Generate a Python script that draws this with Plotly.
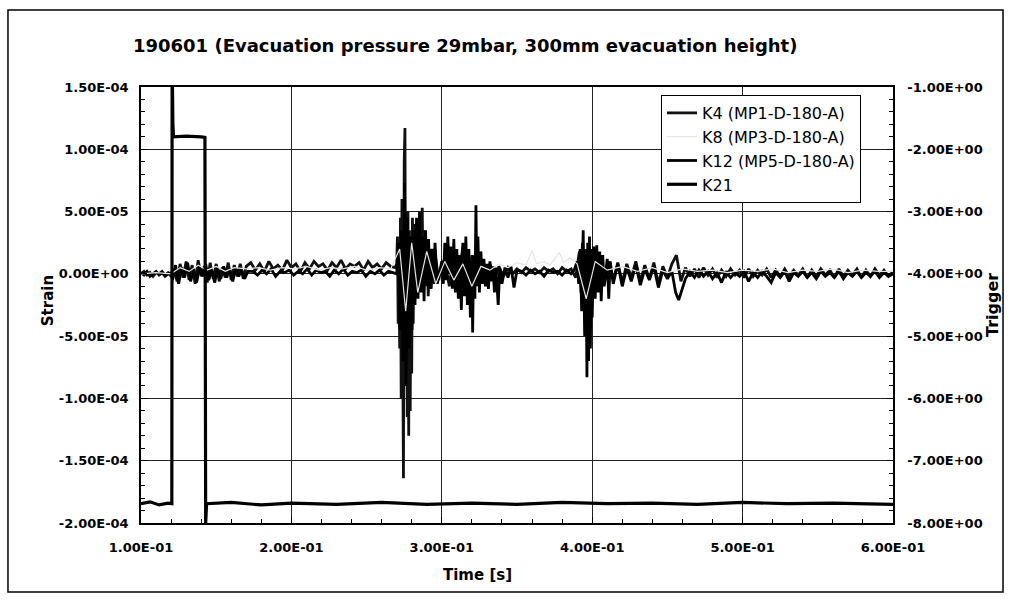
import plotly.graph_objects as go

TITLE = "190601 (Evacuation pressure 29mbar, 300mm evacuation height)"

x_tickvals = [0.1, 0.2, 0.3, 0.4, 0.5, 0.6]
x_ticktext = ["1.00E-01", "2.00E-01", "3.00E-01", "4.00E-01", "5.00E-01", "6.00E-01"]
y_tickvals = [1.5e-4, 1.0e-4, 5.0e-5, 0.0, -5.0e-5, -1.0e-4, -1.5e-4, -2.0e-4]
y_ticktext = ["1.50E-04", "1.00E-04", "5.00E-05", "0.00E+00", "-5.00E-05",
              "-1.00E-04", "-1.50E-04", "-2.00E-04"]
y2_tickvals = [-1, -2, -3, -4, -5, -6, -7, -8]
y2_ticktext = ["-1.00E+00", "-2.00E+00", "-3.00E+00", "-4.00E+00", "-5.00E+00",
               "-6.00E+00", "-7.00E+00", "-8.00E+00"]

# strain values, in micro-strain (1e-6), as (time [s], value)
K4 = [
    (0.100, 0), (0.102, 2), (0.104, -1), (0.106, 1), (0.108, -2), (0.110, 1), (0.112, 0),
    (0.114, 2), (0.116, -1), (0.118, 1), (0.120, -2),
    (0.122, 4), (0.124, -6), (0.126, 8), (0.128, -3), (0.130, 10), (0.132, -5), (0.134, 7),
    (0.136, -8), (0.138, 11), (0.140, -2), (0.142, 6), (0.144, -7), (0.146, 9), (0.148, -4),
    (0.150, 8), (0.152, -6), (0.154, 5), (0.156, -3), (0.158, 9), (0.160, -5), (0.162, 7),
    (0.164, -2), (0.166, 8), (0.168, -4), (0.170, 6),
    (0.173, 9), (0.176, 3), (0.179, 8), (0.182, 2), (0.185, 10), (0.188, 4), (0.191, 7),
    (0.194, 3), (0.197, 11), (0.200, 5), (0.203, 8), (0.206, 2), (0.209, 9), (0.212, 4),
    (0.215, 10), (0.218, 6), (0.221, 8), (0.224, 3), (0.227, 9), (0.230, 5), (0.233, 11),
    (0.236, 4), (0.239, 8), (0.242, 6), (0.245, 9), (0.248, 3), (0.251, 10), (0.254, 5),
    (0.257, 8), (0.260, 4), (0.263, 9), (0.266, 6),
    (0.2690, 5), (0.2700, 8), (0.2705, 30), (0.2710, -40), (0.2715, 20), (0.2720, -60),
    (0.2725, 45), (0.2730, -100), (0.2735, 60), (0.2740, -120), (0.2745, -164), (0.2750, 90),
    (0.2755, 117), (0.2760, -70), (0.2765, 40), (0.2770, -115), (0.2775, 50), (0.2780, -130),
    (0.2785, 35), (0.2790, -110), (0.2795, 20), (0.2800, -80), (0.2805, 45), (0.2810, -40),
    (0.2815, 40), (0.2820, -20), (0.2830, 38), (0.2840, -15), (0.2850, 30), (0.2860, -10),
    (0.2870, 53), (0.2875, -5), (0.2880, 35), (0.2890, -8), (0.2900, 25), (0.2910, -18),
    (0.2920, 20), (0.2930, -12), (0.2940, 15), (0.2950, -8), (0.2960, 12), (0.2980, -5),
    (0.3000, 8),
    (0.302, 12), (0.305, -10), (0.308, 18), (0.311, -6), (0.314, 22), (0.317, -12),
    (0.320, 15), (0.323, -8), (0.326, 10), (0.329, -5), (0.332, 8), (0.335, -4), (0.338, 6),
    (0.341, -2), (0.344, 5), (0.347, 0), (0.350, 4), (0.353, 1), (0.356, 5), (0.359, 2),
    (0.362, 4), (0.365, 1), (0.368, 5), (0.371, 2), (0.374, 4), (0.377, 0), (0.380, 5),
    (0.383, 2), (0.386, 4), (0.389, -3),
    (0.3915, 18), (0.3925, -15), (0.3935, 25), (0.3945, -25), (0.3955, 20), (0.3965, -40),
    (0.3975, 15), (0.3985, -20), (0.3995, 18), (0.4005, -10), (0.4015, 12), (0.4025, -6),
    (0.405, 14), (0.408, -8), (0.411, 10), (0.414, -5), (0.417, 9), (0.420, -7), (0.423, 8),
    (0.426, -3), (0.429, 10), (0.432, -6), (0.435, 7), (0.438, -4), (0.441, 9), (0.444, -8),
    (0.447, 6), (0.450, -3), (0.453, 8), (0.456, 15), (0.459, -6), (0.462, 5), (0.465, -2),
    (0.468, 4), (0.471, -3), (0.474, 5), (0.477, -1), (0.480, 4), (0.483, -3), (0.486, 3),
    (0.489, -2), (0.492, 4), (0.495, -1), (0.498, 3), (0.501, -3), (0.504, 4), (0.507, -2),
    (0.510, 3), (0.513, -1), (0.516, 4), (0.519, -3), (0.522, 3), (0.525, -2), (0.528, 4),
    (0.531, -2), (0.534, 3), (0.537, -1), (0.540, 4), (0.543, -3), (0.546, 3), (0.549, -2),
    (0.552, 4), (0.555, -1), (0.558, 3), (0.561, -3), (0.564, 4), (0.567, -2), (0.570, 3),
    (0.573, -1), (0.576, 4), (0.579, -3), (0.582, 3), (0.585, -2), (0.588, 4), (0.591, -1),
    (0.594, 3), (0.597, -2), (0.600, 2),
]

K8 = [
    (0.100, 0), (0.110, 1), (0.120, 0), (0.126, 5), (0.132, 2), (0.138, 7), (0.144, 3),
    (0.150, 6), (0.156, 2), (0.162, 5), (0.170, 4), (0.178, 5), (0.186, 3), (0.194, 5),
    (0.202, 4), (0.210, 6), (0.218, 3), (0.226, 5), (0.234, 4), (0.242, 6), (0.250, 3),
    (0.258, 5), (0.266, 4), (0.272, 20), (0.276, -30), (0.280, 25), (0.284, -15),
    (0.290, 18), (0.296, -8), (0.302, 10), (0.308, -5), (0.314, 8), (0.320, -10),
    (0.326, 6), (0.332, 3), (0.338, 8), (0.344, 5), (0.350, 9), (0.356, 7), (0.360, 19),
    (0.363, 8), (0.368, 10), (0.372, 7), (0.375, 12), (0.378, 17), (0.381, 9), (0.385, 13),
    (0.390, 8), (0.396, -20), (0.402, 10), (0.410, 3), (0.420, 6), (0.430, 2), (0.440, 5),
    (0.450, 1), (0.460, 4), (0.470, 2), (0.480, 3), (0.490, 1), (0.500, 3), (0.510, 2),
    (0.520, 4), (0.530, 1), (0.540, 3), (0.550, 2), (0.560, 4), (0.570, 1), (0.580, 3),
    (0.590, 2), (0.600, 2),
]

K12 = [
    (0.100, 1), (0.102, -1), (0.104, 2), (0.106, -2), (0.108, 0), (0.110, 2), (0.112, -1),
    (0.114, 1), (0.116, -2), (0.118, 0), (0.120, 1),
    (0.121, -5), (0.123, 7), (0.125, -8), (0.127, 5), (0.129, -3), (0.131, 9), (0.133, -6),
    (0.135, 4), (0.137, -7), (0.139, 6), (0.141, -2), (0.143, 8), (0.145, -5), (0.147, 3),
    (0.149, -7), (0.151, 5), (0.153, -4), (0.155, 6), (0.157, -3), (0.159, 4), (0.161, -6),
    (0.163, 5), (0.165, -2), (0.167, 3), (0.169, -4), (0.171, 2),
    (0.1745, 2), (0.1775, -1), (0.1805, 3), (0.1835, 0), (0.1865, 4), (0.1895, -2),
    (0.1925, 2), (0.1955, 1), (0.1985, 3), (0.2015, -1), (0.2045, 2), (0.2075, 0),
    (0.2105, 4), (0.2135, -1), (0.2165, 3), (0.2195, 1), (0.2225, 2), (0.2255, -2),
    (0.2285, 3), (0.2315, 0), (0.2345, 4), (0.2375, -1), (0.2405, 2), (0.2435, 1),
    (0.2465, 3), (0.2495, -2), (0.2525, 2), (0.2555, 0), (0.2585, 3), (0.2615, -1),
    (0.2645, 2), (0.2675, 1),
    (0.2700, 0), (0.2712, 25), (0.2722, -45), (0.2732, 35), (0.2742, -70), (0.2752, 73),
    (0.2762, -90), (0.2772, 45), (0.2782, -60), (0.2792, 30), (0.2802, -45), (0.2812, 35),
    (0.2822, -25), (0.2832, 45), (0.2842, -20), (0.2852, 50), (0.2862, -15), (0.2872, 30),
    (0.2882, -22), (0.2892, 35), (0.2902, -10), (0.2912, 28), (0.2922, -12), (0.2935, 20),
    (0.2945, -5), (0.2955, 25), (0.2970, -8),
    (0.3000, 10), (0.3010, -8), (0.3020, 25), (0.3030, -5), (0.3040, 30), (0.3050, 0),
    (0.3060, 22), (0.3070, -12), (0.3080, 28), (0.3090, -15), (0.3100, 20), (0.3110, -20),
    (0.3120, 15), (0.3130, -29), (0.3140, 25), (0.3150, -18), (0.3160, 30), (0.3170, -25),
    (0.3180, 20), (0.3190, -35), (0.3200, 10), (0.3205, -47), (0.3212, 15), (0.3220, -20),
    (0.3227, 55), (0.3234, -10), (0.3240, 30), (0.3250, -15), (0.3260, 18), (0.3270, -8),
    (0.3280, 12), (0.3290, -10), (0.3300, 8), (0.3310, -12), (0.3320, 10), (0.3330, -6),
    (0.3340, 6), (0.3350, -15), (0.3360, 5), (0.3375, -25), (0.3385, 4), (0.3400, -8),
    (0.3420, 5), (0.3440, -3), (0.3460, 6), (0.3480, -11), (0.3500, 3),
    (0.353, 2), (0.356, -1), (0.359, 3), (0.362, 0), (0.365, 2), (0.368, -2), (0.371, 3),
    (0.374, 1), (0.377, 2), (0.380, -1), (0.383, 3), (0.386, 0),
    (0.3880, 3), (0.3900, 10), (0.3910, -8), (0.3920, 20), (0.3930, -30), (0.3940, 35),
    (0.3950, -50), (0.3958, 15), (0.3965, -83), (0.3970, 25), (0.3976, -70), (0.3982, 30),
    (0.3988, -60), (0.3994, 20), (0.4000, -35), (0.4010, 22), (0.4020, -20), (0.4030, 23),
    (0.4040, -15), (0.4050, 18), (0.4060, -22), (0.4070, 15), (0.4080, -10), (0.4100, 12),
    (0.4110, -20), (0.4120, 10), (0.4140, -8),
    (0.417, 8), (0.420, -10), (0.423, 5), (0.426, -6), (0.429, 7), (0.432, -9), (0.435, 4),
    (0.438, -5), (0.441, 6), (0.444, -11), (0.447, 3), (0.450, -4), (0.453, 2), (0.4555, -15),
    (0.4575, -21), (0.4595, -14), (0.462, -4), (0.465, 2), (0.468, -3), (0.471, 3),
    (0.474, -2), (0.477, 2), (0.480, -4), (0.483, 1), (0.486, -7), (0.489, 2), (0.492, -3),
    (0.495, 1), (0.498, -2), (0.501, 2), (0.504, -6), (0.507, 1), (0.510, -3), (0.513, 2),
    (0.516, -2), (0.519, -7), (0.522, 1), (0.525, -3), (0.528, 2), (0.531, -6), (0.534, 1),
    (0.537, -2), (0.540, 2), (0.543, -3), (0.546, 1), (0.549, -4), (0.552, 2), (0.555, -2),
    (0.558, 1), (0.561, -3), (0.564, 2), (0.567, -4), (0.570, 1), (0.573, -2), (0.576, 2),
    (0.579, -3), (0.582, 1), (0.585, -2), (0.588, 2), (0.591, -3), (0.594, 1), (0.597, -2),
    (0.600, 0),
]

# trigger channel (right axis), as (time [s], value)
K21 = [
    (0.100, -7.69), (0.106, -7.66), (0.112, -7.71), (0.118, -7.68), (0.1205, -7.69),
    (0.1207, -0.5), (0.1212, -1.6), (0.1216, -1.80), (0.130, -1.79), (0.140, -1.80),
    (0.1425, -1.81), (0.1430, -8.0), (0.1436, -7.69), (0.160, -7.67), (0.180, -7.71),
    (0.200, -7.68), (0.230, -7.70), (0.260, -7.67), (0.290, -7.70), (0.320, -7.68),
    (0.350, -7.70), (0.380, -7.67), (0.410, -7.69), (0.440, -7.68), (0.470, -7.70),
    (0.500, -7.67), (0.530, -7.69), (0.560, -7.68), (0.600, -7.70),
]

MICRO = 1e-6
BLACK = "black"
FONT = "DejaVu Sans, Liberation Sans, sans-serif"


def split(pairs, scale=1.0):
    return [p[0] for p in pairs], [p[1] * scale for p in pairs]


fig = go.Figure()
t, v = split(K4, MICRO)
fig.add_trace(go.Scatter(x=t, y=v, mode="lines", name="K4 (MP1-D-180-A)",
                         line=dict(color="#111111", width=2.8), legendrank=1))
t, v = split(K12, MICRO)
fig.add_trace(go.Scatter(x=t, y=v, mode="lines", name="K12 (MP5-D-180-A)",
                         line=dict(color="#000000", width=2.8), legendrank=3))
t, v = split(K8, MICRO)
fig.add_trace(go.Scatter(x=t, y=v, mode="lines", name="K8 (MP3-D-180-A)",
                         line=dict(color="#e4e4e4", width=1.2), legendrank=2))
t, v = split(K21)
fig.add_trace(go.Scatter(x=t, y=v, mode="lines", name="K21", yaxis="y2",
                         line=dict(color="#000000", width=3.2), legendrank=4))

tickfont = dict(family=FONT, size=13, color=BLACK, weight="bold")

fig.update_layout(
    width=1011, height=601,
    margin=dict(l=141, r=118, t=87, b=78),
    paper_bgcolor="white", plot_bgcolor="white",
    font=dict(family=FONT, color=BLACK),
    showlegend=True,
    legend=dict(x=0.6915, y=0.9817, xanchor="left", yanchor="top",
                bgcolor="white", bordercolor=BLACK, borderwidth=1,
                font=dict(family=FONT, size=16, color=BLACK),
                itemwidth=30, tracegroupgap=0),
    xaxis=dict(range=[0.1, 0.6], tickmode="array", tickvals=x_tickvals, ticktext=x_ticktext,
               showgrid=True, gridcolor="#222222", gridwidth=1, zeroline=False,
               showline=True, linecolor=BLACK, linewidth=1.5, mirror=True,
               ticks="inside", ticklen=6, tickcolor=BLACK, tickfont=tickfont,
               ticklabelstandoff=12,
               minor=dict(tickmode="linear", tick0=0.1, dtick=0.02, ticks="inside",
                          ticklen=4, tickcolor=BLACK, showgrid=False)),
    yaxis=dict(range=[-2.0e-4, 1.5e-4], tickmode="array", tickvals=y_tickvals,
               ticktext=y_ticktext, showgrid=True, gridcolor="#222222", gridwidth=1,
               zeroline=False, showline=True, linecolor=BLACK, linewidth=1.5,
               ticks="inside", ticklen=6, tickcolor=BLACK, tickfont=tickfont,
               ticklabelstandoff=8,
               minor=dict(tickmode="linear", tick0=0.0, dtick=1e-5, ticks="inside",
                          ticklen=4, tickcolor=BLACK, showgrid=False)),
    yaxis2=dict(range=[-8, -1], overlaying="y", side="right", tickmode="array",
                tickvals=y2_tickvals, ticktext=y2_ticktext, showgrid=False, zeroline=False,
                showline=True, linecolor=BLACK, linewidth=1.5,
                ticks="inside", ticklen=6, tickcolor=BLACK, tickfont=tickfont,
                ticklabelstandoff=10,
                minor=dict(tickmode="linear", tick0=-8, dtick=0.2, ticks="inside",
                           ticklen=4, tickcolor=BLACK)),
    annotations=[
        dict(text=TITLE, xref="paper", yref="paper", x=0.4309, y=1.0963,
             xanchor="center", yanchor="middle", showarrow=False,
             font=dict(family=FONT, size=18, color=BLACK, weight="bold")),
        dict(text="Strain", xref="paper", yref="paper", x=-0.1237, y=0.511,
             xanchor="center", yanchor="middle", showarrow=False, textangle=-90,
             font=dict(family=FONT, size=15, color=BLACK, weight="bold")),
        dict(text="Trigger", xref="paper", yref="paper", x=1.1316, y=0.50,
             xanchor="center", yanchor="middle", showarrow=False, textangle=-90,
             font=dict(family=FONT, size=16, color=BLACK, weight="bold")),
        dict(text="Time [s]", xref="paper", yref="paper", x=0.448, y=-0.119,
             xanchor="center", yanchor="middle", showarrow=False,
             font=dict(family=FONT, size=15, color=BLACK, weight="bold")),
    ],
    shapes=[
        dict(type="rect", xref="paper", yref="paper", x0=-0.1769, x1=1.1463,
             y0=-0.1583, y1=1.1766, line=dict(color=BLACK, width=1.5), layer="below"),
    ],
)

fig.write_html("out.html", config={"displayModeBar": False},
               post_script="document.body.style.margin='0px';")
